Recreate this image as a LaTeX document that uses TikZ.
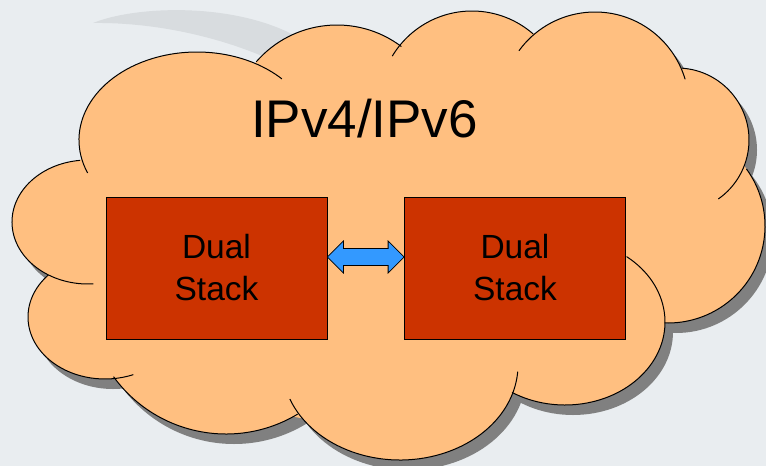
\documentclass[tikz,border=0pt]{standalone}
\usepackage{fontspec}
\setmainfont{Liberation Sans}
\definecolor{slidebg}{HTML}{E9EDF0}
\definecolor{swooshgray}{HTML}{D8DCDF}
\definecolor{cloudorange}{HTML}{FFBF80}
\definecolor{shadowgray}{HTML}{808080}
\definecolor{stackred}{HTML}{CC3300}
\definecolor{arrowblue}{HTML}{3399FF}
\tikzset{
  cloudfill/.style={fill=cloudorange},
  cloudshadow/.style={fill=shadowgray},
  lobeline/.style={draw=black, line width=1pt},
  stackbox/.style={draw=black, fill=stackred, line width=0.8pt, minimum width=221pt,
    minimum height=142pt, inner sep=0pt, align=center,
    font=\fontsize{33.5}{42}\selectfont},
  titletext/.style={font=\fontsize{53}{60}\selectfont},
  dualarrow/.style={draw=black, fill=arrowblue, line width=0.8pt, line join=miter}
}
\begin{document}
\begin{tikzpicture}[x=1pt,y=1pt]
  \clip (0,0) rectangle (766,-466);
  \fill[slidebg] (0,0) rectangle (766,-466);
  \fill[swooshgray] (93,-23) .. controls (140,-4) and (250,-2) .. (310,-45)
    -- (300,-75) .. controls (250,-45) and (170,-22) .. cycle;
  % centres of the cloud lobes
  \coordinate (A) at (197,-140);
  \coordinate (B) at (337,-132);
  \coordinate (C) at (472,-104);
  \coordinate (D) at (595,-106);
  \coordinate (E) at (677,-140);
  \coordinate (F) at (668,-226);
  \coordinate (G) at (565,-322);
  \coordinate (H) at (400,-365);
  \coordinate (I) at (226,-295);
  \coordinate (J) at (105,-317);
  \coordinate (K) at (88,-222);
  % shadow
  \foreach \lb/\rx/\ry in {A/118/88, B/107/107, C/93/93, D/94/94, E/72/72, F/97/97,
      G/100/83, H/118/95, I/139/139, J/77/62, K/76/62}
    \fill[cloudshadow] ([shift={(8,-10)}]\lb) ellipse[x radius=\rx, y radius=\ry];
  % cloud body
  \foreach \lb/\rx/\ry in {A/118/88, B/107/107, C/93/93, D/94/94, E/72/72, F/97/97,
      G/100/83, H/118/95, I/139/139, J/77/62, K/76/62}
    \fill[cloudfill] (\lb) ellipse[x radius=\rx, y radius=\ry];
  \fill[cloudfill] (80,-160) -- (257,-63) -- (403,-45) -- (533,-33) -- (682,-68)
    -- (743,-172) -- (665,-323) -- (510,-395) -- (300,-418) -- (113,-378)
    -- (48,-275) -- cycle;
  % outline
  \draw[lobeline] ([shift={(202:118 and 88)}]A) arc[start angle=202, end angle=44, x radius=118, y radius=88];
  \draw[lobeline] ([shift={(139:107)}]B) arc[start angle=139, end angle=53, radius=107];
  \draw[lobeline] ([shift={(149:93)}]C) arc[start angle=149, end angle=49, radius=93];
  \draw[lobeline] ([shift={(144:94)}]D) arc[start angle=144, end angle=16.5, radius=94];
  \draw[lobeline] ([shift={(86:72)}]E) arc[start angle=86, end angle=-55, radius=72];
  \draw[lobeline] ([shift={(36:97)}]F) arc[start angle=36, end angle=-92, radius=97];
  \draw[lobeline] ([shift={(52:100 and 83)}]G) arc[start angle=52, end angle=-122, x radius=100, y radius=83];
  \draw[lobeline] ([shift={(-159:118 and 95)}]H) arc[start angle=-159, end angle=-4, x radius=118, y radius=95];
  \draw[lobeline] ([shift={(-144:139)}]I) arc[start angle=-144, end angle=-59, radius=139];
  \draw[lobeline] ([shift={(137.5:77 and 62)}]J) arc[start angle=137.5, end angle=291.6, x radius=77, y radius=62];
  \draw[lobeline] ([shift={(96:76 and 62)}]K) arc[start angle=96, end angle=274, x radius=76, y radius=62];
  % contents
  \node[titletext, anchor=base] (title) at (364.5,-137) {IPv4/IPv6};
  \node[stackbox] (lstack) at (216.5,-268) {Dual\\Stack};
  \node[stackbox] (rstack) at (515,-268) {Dual\\Stack};
  \coordinate (ltip) at ([yshift=11pt]lstack.east);
  \coordinate (rtip) at ([yshift=11pt]rstack.west);
  \draw[dualarrow] (ltip) -- ([xshift=16pt,yshift=16pt]ltip) -- ([xshift=16pt,yshift=8.5pt]ltip)
    -- ([xshift=-16pt,yshift=8.5pt]rtip) -- ([xshift=-16pt,yshift=16pt]rtip) -- (rtip)
    -- ([xshift=-16pt,yshift=-16pt]rtip) -- ([xshift=-16pt,yshift=-8.5pt]rtip)
    -- ([xshift=16pt,yshift=-8.5pt]ltip) -- ([xshift=16pt,yshift=-16pt]ltip) -- cycle;
\end{tikzpicture}
\end{document}
